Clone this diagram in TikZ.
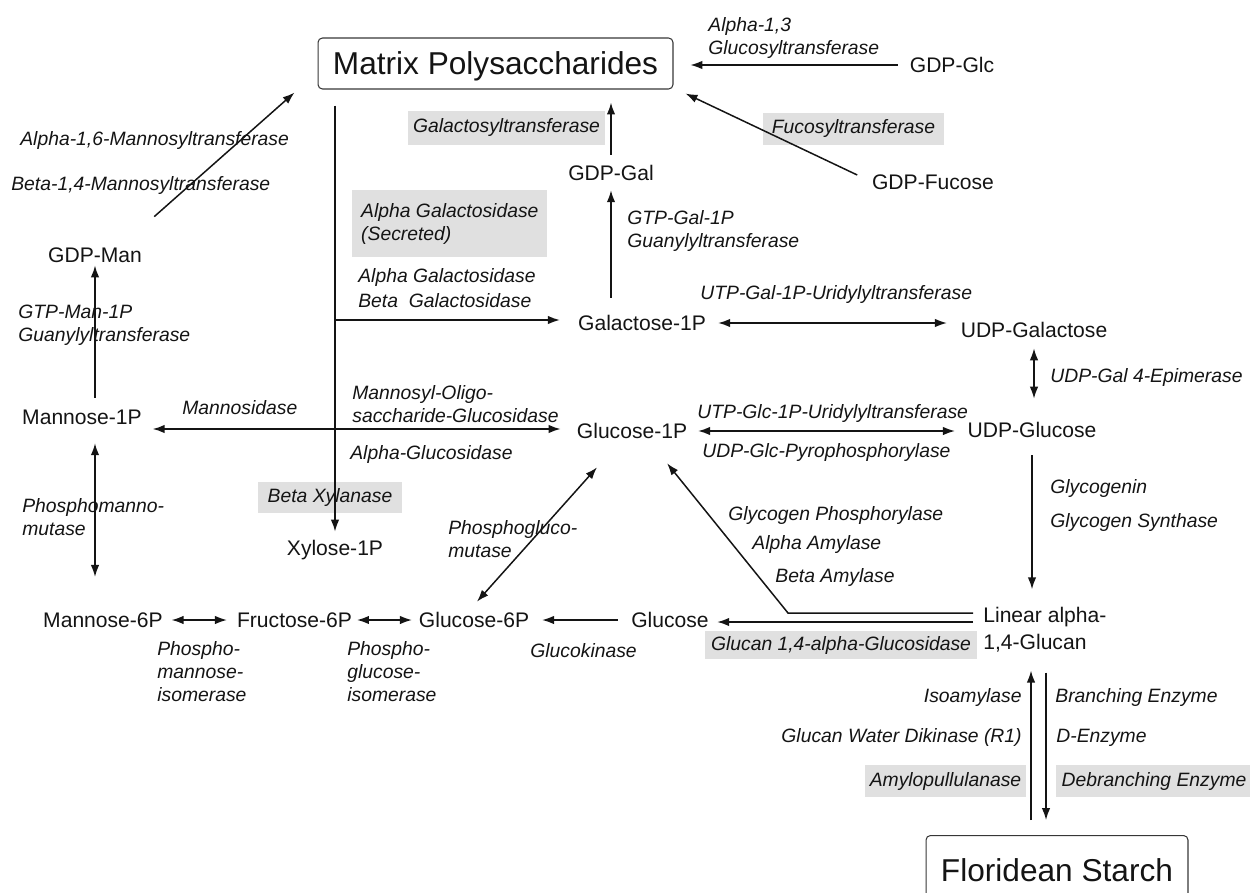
\documentclass[tikz,border=0pt]{standalone}
\usepackage{fontspec}
\setmainfont{Liberation Sans}
\usetikzlibrary{arrows.meta,calc}
\definecolor{shade}{RGB}{224,224,224}
\definecolor{ink}{RGB}{20,20,20}
\begin{document}
\begin{tikzpicture}[x=0.02cm,y=-0.02cm,
  every node/.style={inner sep=0pt, text=ink},
  met/.style={font=\fontsize{12}{15.3}\selectfont, text height=0.304cm, text depth=0pt},
  big/.style={draw=ink!85, line width=0.6pt, rounded corners=2.5pt, font=\fontsize{18}{21}\selectfont, text height=0.455cm, text depth=0pt},
  enz/.style={font=\fontsize{11}{13}\selectfont\itshape, align=left},
  hl/.style={enz, fill=shade},
  arr/.style={draw=ink, line width=0.85pt, -{Latex[length=6.8pt,width=4.8pt]}},
  darr/.style={draw=ink, line width=0.85pt, {Latex[length=6.8pt,width=4.8pt]}-{Latex[length=6.8pt,width=4.8pt]}}
]
\useasboundingbox (0,0) rectangle (1250,892);
\clip (0,0) rectangle (1250,892);

% ---------- enzyme labels ----------
\node[enz, anchor=north west] (l1) at (708,17) {Alpha-1,3\\Glucosyltransferase};
\node[hl, minimum width=3.94cm, minimum height=0.68cm] (l2) at (506.5,128) {Galactosyltransferase};
\node[hl, minimum width=3.62cm, minimum height=0.64cm] (l3) at (853.5,129) {Fucosyltransferase};
\node[enz, anchor=base west] (l4) at (20,145) {Alpha-1,6-Mannosyltransferase};
\node[enz, anchor=base west] (l5) at (11,190) {Beta-1,4-Mannosyltransferase};
\node[hl, minimum width=3.9cm, minimum height=1.34cm, anchor=north west] (l6) at (352,190) {Alpha Galactosidase\\(Secreted)};
\node[enz, anchor=north west] (l7) at (627,210) {GTP-Gal-1P\\Guanylyltransferase};
\node[enz, anchor=base west] (l8) at (358,282) {Alpha Galactosidase};
\node[enz, anchor=base west] (l9) at (358,307) {Beta\ \ Galactosidase};
\node[enz, anchor=base west] (l10) at (700,299) {UTP-Gal-1P-Uridylyltransferase};
\node[enz, anchor=north west] (l11) at (18,305) {GTP-Man-1P\\Guanylyltransferase};
\node[enz, anchor=base west] (l12) at (1050,382) {UDP-Gal 4-Epimerase};
\node[enz, anchor=base west] (l13) at (182,414) {Mannosidase};
\node[enz, anchor=north west] (l14) at (352,385) {Mannosyl-Oligo-\\saccharide-Glucosidase};
\node[enz, anchor=base west] (l15) at (350,459) {Alpha-Glucosidase};
\node[enz, anchor=base west] (l16) at (697,418) {UTP-Glc-1P-Uridylyltransferase};
\node[enz, anchor=base west] (l17) at (702,457) {UDP-Glc-Pyrophosphorylase};
\node[enz, anchor=base west] (l18) at (1050,493) {Glycogenin};
\node[enz, anchor=base west] (l19) at (1050,527) {Glycogen Synthase};
\node[hl, minimum width=2.88cm, minimum height=0.62cm] (l20) at (330,497.5) {Beta Xylanase};
\node[enz, anchor=north west] (l21) at (22,498) {Phosphomanno-\\mutase};
\node[enz, anchor=north west] (l22) at (448,520) {Phosphogluco-\\mutase};
\node[enz, anchor=base west] (l23) at (728,520) {Glycogen Phosphorylase};
\node[enz, anchor=base west] (l24) at (752,549) {Alpha Amylase};
\node[enz, anchor=base west] (l25) at (775,582) {Beta Amylase};
\node[enz, anchor=north west] (l26) at (157,641) {Phospho-\\mannose-\\isomerase};
\node[enz, anchor=north west] (l27) at (347,641) {Phospho-\\glucose-\\isomerase};
\node[enz, anchor=base west] (l28) at (530,657) {Glucokinase};
\node[hl, minimum width=5.44cm, minimum height=0.56cm] (l29) at (841,645) {Glucan 1,4-alpha-Glucosidase};
\node[enz, anchor=base east] (l30) at (1022,702) {Isoamylase};
\node[enz, anchor=base east] (l31) at (1022,742) {Glucan Water Dikinase (R1)};
\node[hl, minimum width=3.22cm, minimum height=0.64cm] (l32) at (945.5,781) {Amylopullulanase};
\node[enz, anchor=base west] (l33) at (1055,702) {Branching Enzyme};
\node[enz, anchor=base west] (l34) at (1056,742) {D-Enzyme};
\node[hl, minimum width=3.92cm, minimum height=0.64cm] (l35) at (1154,781) {Debranching Enzyme};

% ---------- metabolites ----------
\node[big, minimum width=7.1cm, minimum height=1.02cm] (mp) at (495.5,63.5) {Matrix Polysaccharides};
\node[big, minimum width=5.24cm, minimum height=1.4cm, anchor=north] (fs) at (1057,835) {Floridean Starch};
\node[met] (glc) at (952,65) {GDP-Glc};
\node[met] (fuc) at (933,182) {GDP-Fucose};
\node[met] (gal) at (611,173) {GDP-Gal};
\node[met] (gal1p) at (642,323) {Galactose-1P};
\node[met] (udpgal) at (1034,330) {UDP-Galactose};
\node[met] (udpglc) at (1032,430) {UDP-Glucose};
\node[met] (glc1p) at (632,431) {Glucose-1P};
\node[met] (man1p) at (82,417) {Mannose-1P};
\node[met] (gdpman) at (95,255) {GDP-Man};
\node[met] (xyl) at (335,548) {Xylose-1P};
\node[met] (man6p) at (103,620) {Mannose-6P};
\node[met] (fru6p) at (294.5,620) {Fructose-6P};
\node[met] (glc6p) at (474,620) {Glucose-6P};
\node[met] (glucose) at (670,620) {Glucose};
\node[font=\fontsize{12}{15.3}\selectfont, align=left, anchor=west] (lin) at (983,629.5) {Linear alpha-\\1,4-Glucan};

\coordinate (tg) at (335,320);
\coordinate (tm) at (335,429);
\coordinate (up) at ([xshift=-0.52cm]fs.north);
\coordinate (dn) at ([xshift=-0.22cm]fs.north);

% ---------- connectors ----------
\draw[arr, shorten <=6.8pt, shorten >=9.6pt] (glc.west) -- (glc.west -| mp.east);
\draw[arr] ([shift={(-14.5,-7)}]fuc.west) -- ([shift={(12,4)}]mp.south east);
\draw[arr, shorten <=5.9pt, shorten >=7.4pt] (gal.north) -- (gal.north |- mp.south);
\draw[arr, shorten <=9.9pt, shorten >=5.3pt] (gal.south |- gal1p.north) -- (gal.south);
\draw[arr, shorten <=9.1pt, shorten >=4.8pt] (xyl.north |- mp.south) -- (xyl.north);
\draw[arr, shorten >=10.2pt] (tg) -- (tg -| gal1p.west);
\draw[arr, shorten >=9.1pt] (tm) -- (tm -| glc1p.west);
\draw[arr, shorten >=6pt] (tm) -- (tm -| man1p.east);
\draw[arr, shorten <=6.5pt, shorten >=1.4pt] (gdpman.south |- man1p.north) -- (gdpman.south);
\draw[arr] ([shift={(12,-30.4)}]gdpman.north east) -- ([shift={(-23,3)}]mp.south west);
\draw[darr, shorten <=10.4pt, shorten >=20pt] (gdpman.south |- man1p.south) -- (gdpman.south |- man6p.north);
\draw[darr, shorten <=4.8pt, shorten >=5.6pt] (man6p.east) -- (fru6p.west);
\draw[darr, shorten <=2.7pt, shorten >=3.8pt] (fru6p.east) -- (glc6p.west);
\draw[arr, shorten <=7.5pt, shorten >=7.2pt] (glucose.west) -- (glc6p.east);
\draw[darr] ([shift={(-35,28.4)}]glc1p.south) -- ([shift={(3,-10.4)}]glc6p.north);
\draw[arr] ([shift={(-10,-7.5)}]lin.west) -- ([shift={(8.2,2)}]glucose.east);
\draw[arr] ([shift={(-10,-16.5)}]lin.west) -- ++(-185,0) -- ([shift={(-20.3,24.4)}]glc1p.south east);
\draw[darr, shorten <=6.8pt, shorten >=7.7pt] (gal1p.east) -- (gal1p.east -| udpgal.west);
\draw[darr, shorten <=5.9pt, shorten >=13.3pt] (udpgal.south) -- (udpgal.south |- udpglc.north);
\draw[darr, shorten <=6.1pt, shorten >=7pt] (glc1p.east) -- (glc1p.east -| udpglc.west);
\draw[arr, shorten <=9.9pt, shorten >=9.9pt] (udpglc.south) -- (udpglc.south |- lin.north);
\draw[arr, shorten <=8.5pt, shorten >=10.4pt] (up) -- (up |- lin.south);
\draw[arr, shorten <=11.6pt, shorten >=8.5pt] (dn |- lin.south) -- (dn);
\end{tikzpicture}
\end{document}
